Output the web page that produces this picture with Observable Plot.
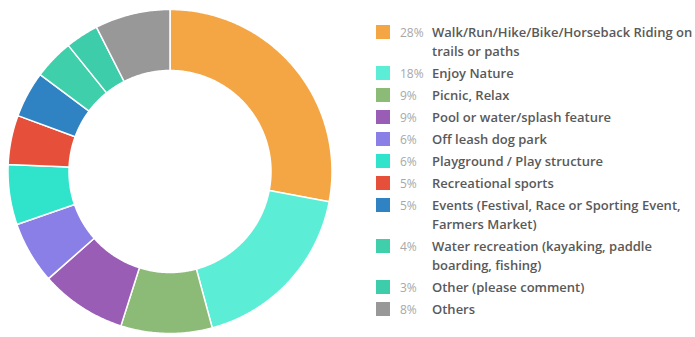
<!DOCTYPE html>
<html>
<head>
<meta charset="utf-8">
<script src="https://cdn.jsdelivr.net/npm/d3@7"></script>
<script src="https://cdn.jsdelivr.net/npm/@observablehq/plot@0.6"></script>
<style>
  html, body { margin: 0; padding: 0; background: #fff; }
  body { width: 695px; height: 337px; position: relative; overflow: hidden; font-family: "Open Sans", sans-serif; }
  #chart { position: absolute; left: 0; top: 0; }
  #legend { position: absolute; left: 376px; top: 23px; }
  .row { display: flex; align-items: flex-start; margin-bottom: 3px; }
  .sw { width: 14px; height: 14px; margin-top: 2px; flex: none; }
  .pct { width: 42px; padding-left: 10px; box-sizing: border-box; color: #a8a8a8; font-size: 12px; line-height: 19px; flex: none; }
  .lab { width: 262px; color: #595959; font-size: 13px; font-weight: 600; line-height: 19px; }
</style>
</head>
<body>
<div id="chart"></div>
<div id="legend"></div>
<script>
const categories = [
  "Walk/Run/Hike/Bike/Horseback Riding on trails or paths",
  "Enjoy Nature",
  "Picnic, Relax",
  "Pool or water/splash feature",
  "Off leash dog park",
  "Playground / Play structure",
  "Recreational sports",
  "Events (Festival, Race or Sporting Event, Farmers Market)",
  "Water recreation (kayaking, paddle boarding, fishing)",
  "Other (please comment)",
  "Others"
];
const values = [28.0, 17.8, 9.1, 8.6, 6.2, 6.0, 4.9, 4.6, 4.0, 3.3, 7.5];
const pctLabels = ["28%", "18%", "9%", "9%", "6%", "6%", "5%", "5%", "4%", "3%", "8%"];
const colors = ["#F4A645", "#5BEDD6", "#8BBB76", "#9A5DB6", "#8A7FE6", "#30E3CB", "#E64F3A", "#2F83C3", "#40CFAB", "#3ECDAA", "#989898"];

const innerR = 101 / 162;
const total = d3.sum(values);
const pts = [];
let acc = 0;
values.forEach((v, i) => {
  const a0 = acc / total * 2 * Math.PI;
  acc += v;
  const a1 = acc / total * 2 * Math.PI;
  const n = Math.max(4, Math.ceil((a1 - a0) / 0.01));
  for (let k = 0; k <= n; k++) {
    const a = a0 + (a1 - a0) * k / n;
    pts.push({cat: categories[i], x: Math.sin(a), y: Math.cos(a)});
  }
  for (let k = n; k >= 0; k--) {
    const a = a0 + (a1 - a0) * k / n;
    pts.push({cat: categories[i], x: innerR * Math.sin(a), y: innerR * Math.cos(a)});
  }
});

const cx = 169.5, cy = 171, R = 162;
const chart = Plot.plot({
  width: 345,
  height: 337,
  margin: 0,
  x: {domain: [-1, 1], range: [cx - R, cx + R], axis: null},
  y: {domain: [-1, 1], range: [cy + R, cy - R], axis: null},
  color: {domain: categories, range: colors},
  marks: [
    Plot.line(pts, {x: "x", y: "y", z: "cat", fill: "cat", stroke: "white", strokeWidth: 1.5, curve: "linear-closed"})
  ]
});
document.getElementById("chart").appendChild(chart);

const legend = document.getElementById("legend");
categories.forEach((c, i) => {
  const row = document.createElement("div");
  row.className = "row";
  const sw = document.createElement("div");
  sw.className = "sw";
  sw.style.background = colors[i];
  const pct = document.createElement("div");
  pct.className = "pct";
  pct.textContent = pctLabels[i];
  const lab = document.createElement("div");
  lab.className = "lab";
  lab.textContent = c;
  row.append(sw, pct, lab);
  legend.appendChild(row);
});
</script>
</body>
</html>
